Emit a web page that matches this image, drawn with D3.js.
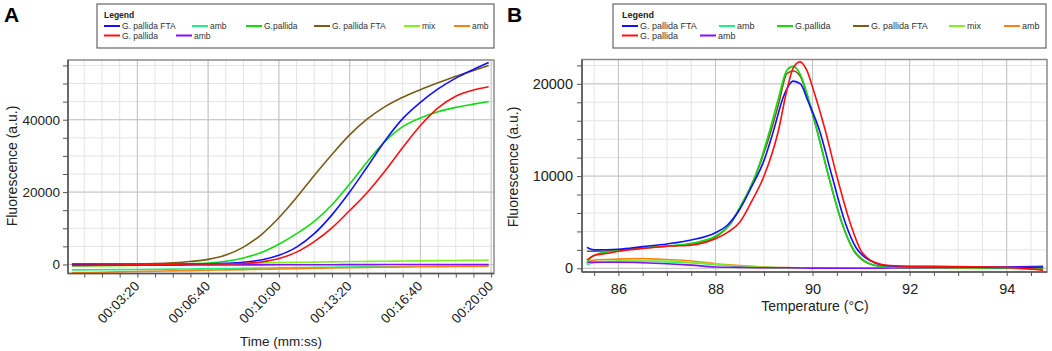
<!DOCTYPE html>
<html>
<head>
<meta charset="utf-8">
<script src="https://cdn.jsdelivr.net/npm/d3@7"></script>
<style>
  body { margin: 0; background: #fff; }
  svg { display: block; font-family: Arial, "Liberation Sans", sans-serif; }
</style>
</head>
<body>
<div id="chart"></div>
<script>
// ---------- legend (same in both panels) ----------
const seriesNames = ["G. pallida FTA", "amb", "G.pallida", "G. pallida FTA", "mix", "amb", "G. pallida", "amb"];
const seriesColors = ["#1010ff", "#20ee80", "#10dd10", "#7a5c18", "#80f020", "#ff8010", "#ff1010", "#8010ff"];

// ---------- panel A: amplification, time in seconds ----------
const ampTime = [15, 100, 200, 250, 300, 350, 400, 450, 500, 550, 600, 650, 700, 750, 800, 850, 900, 950, 1000, 1050, 1100, 1150, 1193];
const ampBlueFTA  = [0, 0, 0, 20, 50, 100, 180, 320, 600, 1250, 2550, 4800, 8500, 13700, 20000, 27000, 34200, 40300, 44800, 48500, 51500, 53900, 55800];
const ampMintAmb  = [-1500, -1450, -1400, -1350, -1300, -1250, -1200, -1130, -1070, -1000, -950, -880, -820, -760, -700, -650, -600, -550, -500, -470, -440, -420, -400];
const ampGreen    = [0, 0, 0, 30, 100, 200, 400, 900, 1800, 3300, 5600, 8500, 11900, 16500, 22200, 28400, 34000, 38100, 40500, 42200, 43400, 44300, 45000];
const ampBrownFTA = [100, 100, 150, 250, 450, 800, 1400, 2600, 4800, 8200, 12900, 18500, 24600, 30400, 35800, 40200, 43600, 46200, 48300, 50200, 52000, 53600, 55000];
const ampMix      = [-500, -400, -250, -180, -100, 0, 100, 200, 300, 400, 500, 580, 650, 720, 800, 850, 900, 950, 1000, 1050, 1100, 1150, 1200];
const ampOrangeAmb = [-2300, -2150, -1950, -1870, -1780, -1700, -1600, -1510, -1420, -1330, -1250, -1160, -1070, -980, -900, -830, -770, -710, -650, -600, -560, -530, -500];
const ampRed      = [200, 150, 100, 100, 100, 110, 130, 160, 250, 700, 1650, 3400, 6300, 10100, 14900, 19900, 25800, 32300, 38400, 43300, 46500, 48200, 49100];
const ampPurpleAmb = [-250, -230, -200, -190, -180, -170, -150, -140, -120, -110, -100, -90, -80, -70, -50, -40, -30, -25, -20, -15, -10, -5, 0];
const ampSeries = [ampBlueFTA, ampMintAmb, ampGreen, ampBrownFTA, ampMix, ampOrangeAmb, ampRed, ampPurpleAmb];
const ampTickSeconds = [200, 400, 600, 800, 1000, 1200];

// ---------- panel B: melt curves, [temperature, fluorescence] ----------
const meltBlueFTA = [[85.35, 2270], [85.5, 2000], [86, 2060], [86.5, 2350], [87, 2640], [87.5, 3070], [88, 3860], [88.25, 4700], [88.5, 6400], [88.75, 8900], [89, 11700], [89.2, 15000], [89.4, 18600], [89.6, 20300], [89.75, 20000], [89.9, 18200], [90.14, 15000], [90.4, 10000], [90.67, 5000], [90.9, 2200], [91.1, 1100], [91.3, 550], [91.5, 300], [91.8, 200], [92, 180], [93, 150], [94, 100], [94.75, 150]];
const meltMintAmb = [[85.35, 400], [85.5, 600], [86, 750], [86.5, 760], [87, 700], [87.5, 600], [88, 400], [88.5, 220], [89, 100], [89.5, 50], [90, 20], [91, 10], [92, 30], [93, 30], [94, 30], [94.75, 50]];
const meltGreen = [[85.35, 600], [85.45, 1200], [85.6, 1600], [86, 1900], [86.5, 2200], [87, 2400], [87.5, 2700], [88, 3500], [88.33, 5000], [88.5, 6600], [88.82, 10000], [89.12, 15000], [89.3, 18500], [89.47, 21480], [89.6, 21900], [89.75, 21000], [89.9, 18700], [90.09, 15000], [90.33, 10000], [90.6, 5000], [90.85, 2000], [91.05, 900], [91.3, 300], [91.5, 150], [92, 100], [93, 80], [94, 50], [94.75, 100]];
const meltBrownFTA = [[85.35, 1850], [85.5, 1850], [86, 1950], [86.5, 2200], [87, 2400], [87.5, 2600], [88, 3400], [88.33, 5000], [88.5, 6500], [88.82, 10000], [89.15, 15000], [89.3, 17800], [89.47, 21100], [89.6, 21400], [89.75, 20800], [89.9, 18500], [90.09, 15000], [90.33, 10000], [90.6, 5000], [90.85, 1900], [91.05, 800], [91.3, 300], [91.5, 170], [92, 120], [93, 100], [94, 60], [94.75, 50]];
const meltMix = [[85.35, 500], [85.5, 700], [86, 800], [86.5, 800], [87, 780], [87.5, 650], [88, 450], [88.5, 250], [89, 120], [89.5, 60], [90, 30], [91, 20], [92, 50], [93, 50], [94, 30], [94.75, 0]];
const meltOrangeAmb = [[85.35, 600], [85.5, 900], [86, 1000], [86.5, 1050], [87, 950], [87.5, 800], [88, 500], [88.5, 300], [89, 150], [89.5, 80], [90, 30], [91, 20], [92, 80], [93, 60], [94, 0], [94.75, -100]];
const meltRed = [[85.35, 900], [85.5, 1400], [85.75, 1600], [86, 1850], [86.5, 2150], [87, 2400], [87.5, 2500], [87.75, 2750], [88, 3200], [88.25, 3900], [88.5, 5000], [88.75, 7300], [89, 10000], [89.3, 15000], [89.47, 19300], [89.6, 21700], [89.74, 22380], [89.88, 21480], [90.02, 19300], [90.26, 15000], [90.5, 10000], [90.77, 5000], [91, 1900], [91.2, 850], [91.4, 450], [91.6, 300], [92, 220], [93, 200], [94, 100], [94.75, -200]];
const meltPurpleAmb = [[85.35, 650], [86, 650], [86.5, 600], [87, 500], [87.5, 350], [88, 150], [88.5, 100], [89, 60], [89.5, 60], [90, 20], [91, 0], [92, 50], [93, 80], [94, 150], [94.75, 220]];
const meltSeries = [meltBlueFTA, meltMintAmb, meltGreen, meltBrownFTA, meltMix, meltOrangeAmb, meltRed, meltPurpleAmb];
const meltTicks = [86, 88, 90, 92, 94];

// drawing order (back to front)
const drawOrder = [1, 5, 4, 7, 3, 2, 0, 6];

const W = 1052, H = 351;
const svg = d3.select("#chart").append("svg")
  .attr("width", W).attr("height", H)
  .attr("viewBox", [0, 0, W, H]);

const fmtTime = s => {
  const m = Math.floor(s / 60), sec = s % 60;
  return "00:" + String(m).padStart(2, "0") + ":" + String(sec).padStart(2, "0");
};

// shared plot frame: grid and border
function frame(g, x, y, xMinor, xMajor, yMinor, yMajor) {
  const [x0, x1] = x.range(), [y1, y0] = y.range();
  g.append("g").selectAll("line").data(xMinor).join("line")
    .attr("x1", d => x(d)).attr("x2", d => x(d)).attr("y1", y0).attr("y2", y1)
    .attr("stroke", "#e4e4e4").attr("stroke-width", 1);
  g.append("g").selectAll("line").data(yMinor).join("line")
    .attr("y1", d => y(d)).attr("y2", d => y(d)).attr("x1", x0).attr("x2", x1)
    .attr("stroke", "#e4e4e4").attr("stroke-width", 1);
  g.append("g").selectAll("line").data(xMajor).join("line")
    .attr("x1", d => x(d)).attr("x2", d => x(d)).attr("y1", y0).attr("y2", y1)
    .attr("stroke", "#c4c4c4").attr("stroke-width", 1);
  g.append("g").selectAll("line").data(yMajor).join("line")
    .attr("y1", d => y(d)).attr("y2", d => y(d)).attr("x1", x0).attr("x2", x1)
    .attr("stroke", "#c4c4c4").attr("stroke-width", 1);
  g.append("rect")
    .attr("x", x0).attr("y", y0).attr("width", x1 - x0).attr("height", y1 - y0)
    .attr("fill", "none").attr("stroke", "#8a8a8a").attr("stroke-width", 1.5);
}

function legend(g, left, top, width, cols, fontSize) {
  g.append("rect").attr("x", left).attr("y", top).attr("width", width).attr("height", 44)
    .attr("fill", "#fff").attr("stroke", "#666").attr("stroke-width", 1.2);
  g.append("text").attr("x", left + cols[0][0]).attr("y", top + 14)
    .attr("font-size", fontSize).attr("font-weight", "bold").attr("fill", "#222").text("Legend");
  seriesNames.forEach((name, i) => {
    const [dx, row] = cols[i];
    const cy = top + 22 + row * 9.5;
    g.append("line").attr("x1", left + dx).attr("x2", left + dx + 16)
      .attr("y1", cy).attr("y2", cy).attr("stroke", seriesColors[i]).attr("stroke-width", 2);
    g.append("text").attr("x", left + dx + 18).attr("y", cy + 3)
      .attr("font-size", fontSize).attr("fill", "#333").text(name);
  });
}

// ================= Panel A =================
{
  const x = d3.scaleLinear().domain([4, 1208]).range([68, 494]);
  const y = d3.scaleLinear().domain([-2500, 56500]).range([273.5, 60]);
  const g = svg.append("g");

  frame(g, x, y, d3.range(50, 1201, 50), ampTickSeconds, d3.range(0, 55001, 5000), [0, 20000, 40000]);

  const line = d3.line().x((d, i) => x(ampTime[i])).y(d => y(d)).curve(d3.curveMonotoneX);
  drawOrder.forEach(i => {
    g.append("path").attr("d", line(ampSeries[i]))
      .attr("fill", "none").attr("stroke", seriesColors[i]).attr("stroke-width", 1.6);
  });

  const yAxis = d3.axisLeft(y).tickValues(d3.range(0, 55001, 5000))
    .tickFormat(d => d % 20000 === 0 ? d : "").tickSizeInner(5).tickSizeOuter(0).tickPadding(3);
  const ya = g.append("g").attr("transform", "translate(68,0)").call(yAxis);
  ya.select(".domain").attr("d", "M0,60V273.5").attr("stroke", "#555").attr("stroke-width", 1.5);
  ya.selectAll(".tick line").attr("stroke", "#555");
  ya.selectAll("text").attr("font-size", 13.5).attr("fill", "#222");

  const xAxis = d3.axisBottom(x).tickValues(d3.range(50, 1201, 50))
    .tickFormat("").tickSizeInner(4).tickSizeOuter(0);
  const xa = g.append("g").attr("transform", "translate(0,273.5)").call(xAxis);
  xa.select(".domain").attr("d", "M68,0H494").attr("stroke", "#555").attr("stroke-width", 1.5);
  xa.selectAll(".tick line").attr("stroke", "#555");

  g.append("g").selectAll("text").data(ampTickSeconds).join("text")
    .attr("transform", d => `translate(${x(d) + 3},${287}) rotate(-45)`)
    .attr("text-anchor", "end")
    .attr("font-size", 13.5).attr("fill", "#222")
    .text(fmtTime);

  g.append("text").attr("x", 281).attr("y", 346).attr("text-anchor", "middle")
    .attr("font-size", 13.5).attr("fill", "#222").text("Time (mm:ss)");
  g.append("text").attr("transform", "translate(17,166) rotate(-90)").attr("text-anchor", "middle")
    .attr("font-size", 14).attr("fill", "#222").text("Fluorescence (a.u.)");

  g.append("text").attr("x", 4).attr("y", 22).attr("font-size", 21).attr("font-weight", "bold").text("A");

  legend(g, 97, 4, 397, [[7, 0], [95, 0], [149, 0], [217, 0], [307, 0], [357, 0], [7, 1], [79, 1]], 8.5);
}

// ================= Panel B =================
{
  const x = d3.scaleLinear().domain([85.25, 94.83]).range([582, 1047]);
  const y = d3.scaleLinear().domain([-400, 22640]).range([272, 59.5]);
  const g = svg.append("g");

  frame(g, x, y, d3.range(85.5, 94.81, 0.5), meltTicks, d3.range(0, 22001, 2000), [0, 10000, 20000]);

  const line = d3.line().x(d => x(d[0])).y(d => y(d[1])).curve(d3.curveMonotoneX);
  drawOrder.forEach(i => {
    g.append("path").attr("d", line(meltSeries[i]))
      .attr("fill", "none").attr("stroke", seriesColors[i]).attr("stroke-width", 1.6);
  });

  const yAxis = d3.axisLeft(y).tickValues(d3.range(0, 22001, 2000))
    .tickFormat(d => d % 10000 === 0 ? d : "").tickSizeInner(5).tickSizeOuter(0).tickPadding(4);
  const ya = g.append("g").attr("transform", "translate(582,0)").call(yAxis);
  ya.select(".domain").attr("d", "M0,59.5V272").attr("stroke", "#555").attr("stroke-width", 1.5);
  ya.selectAll(".tick line").attr("stroke", "#555");
  ya.selectAll("text").attr("font-size", 14.5).attr("fill", "#222");

  const xAxis = d3.axisBottom(x).tickValues(d3.range(85.5, 94.81, 0.5))
    .tickFormat(d => meltTicks.includes(d) ? d : "").tickSizeInner(4).tickSizeOuter(0).tickPadding(8);
  const xa = g.append("g").attr("transform", "translate(0,272)").call(xAxis);
  xa.select(".domain").attr("d", "M582,0H1047").attr("stroke", "#555").attr("stroke-width", 1.5);
  xa.selectAll(".tick line").attr("stroke", "#555");
  xa.selectAll("text").attr("font-size", 14.5).attr("fill", "#222");

  g.append("text").attr("x", 815).attr("y", 311).attr("text-anchor", "middle")
    .attr("font-size", 14).attr("fill", "#222").text("Temperature (°C)");
  g.append("text").attr("transform", "translate(518,167) rotate(-90)").attr("text-anchor", "middle")
    .attr("font-size", 14).attr("fill", "#222").text("Fluorescence (a.u.)");

  g.append("text").attr("x", 507).attr("y", 22).attr("font-size", 21).attr("font-weight", "bold").text("B");

  legend(g, 613, 4, 433, [[9, 0], [106, 0], [164, 0], [240, 0], [336, 0], [391, 0], [9, 1], [87, 1]], 9);
}
</script>
</body>
</html>
